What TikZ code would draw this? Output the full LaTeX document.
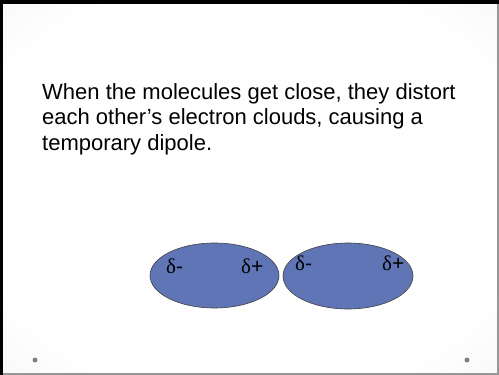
\documentclass[tikz,border=0pt]{standalone}
\usepackage{fontspec}
\setmainfont{Liberation Sans}
\newfontfamily\greekserif{Liberation Serif}
\usetikzlibrary{shapes.geometric}
\definecolor{molblue}{RGB}{96,117,182}
\definecolor{bgmid}{RGB}{236,236,236}
\definecolor{bgedge}{RGB}{220,220,220}
\definecolor{dotgray}{RGB}{128,128,128}
\definecolor{rightline}{RGB}{150,150,150}
\pgfdeclareradialshading{slidebg}{\pgfpoint{0bp}{0bp}}{%
  color(0bp)=(white); color(28bp)=(white); color(50bp)=(bgmid); color(71bp)=(bgedge)}
\tikzset{
  bodytext/.style={anchor=base west, inner sep=0pt, font=\fontsize{22}{25.5}\selectfont},
  molecule/.style={ellipse, draw=black!75, line width=0.6pt, fill=molblue, minimum width=129pt, minimum height=65pt, inner sep=0pt},
  charge/.style={anchor=base west, inner sep=0pt, font=\fontsize{21}{24}\selectfont},
  slidedot/.style={circle, fill=dotgray, inner sep=0pt, minimum size=5pt}
}
\newcommand{\dlt}{{\greekserif δ}}
\begin{document}
\begin{tikzpicture}[x=1pt,y=-1pt]
\useasboundingbox (0,0) rectangle (499,375);
\shade[shading=slidebg] (0,0) rectangle (499,375);
% borders
\fill[black] (0,0) rectangle (499,4);
\fill[black] (0,0) rectangle (3,375);
\fill[rightline] (497,4) rectangle (499,375);
\fill[rightline] (3,373) rectangle (499,375);
% text
\node[bodytext] (l1) at (42,99) {When the molecules get close, they distort};
\node[bodytext] (l2) at (42,124.5) {each other’s electron clouds, causing a};
\node[bodytext] (l3) at (42,150) {temporary dipole.};
% molecules
\node[molecule] (m1) at (214.5,275.5) {};
\node[molecule, minimum width=130pt, minimum height=66pt] (m2) at (348,276) {};
\node[charge] (m1n) at (166,273) {\dlt-};
\node[charge] (m1p) at (241,273) {\dlt+};
\node[charge] (m2n) at (295,270) {\dlt-};
\node[charge] (m2p) at (382,270) {\dlt+};
% slide dots
\node[slidedot] (dl) at (35,360) {};
\node[slidedot] (dr) at (467,360) {};
\end{tikzpicture}
\end{document}
